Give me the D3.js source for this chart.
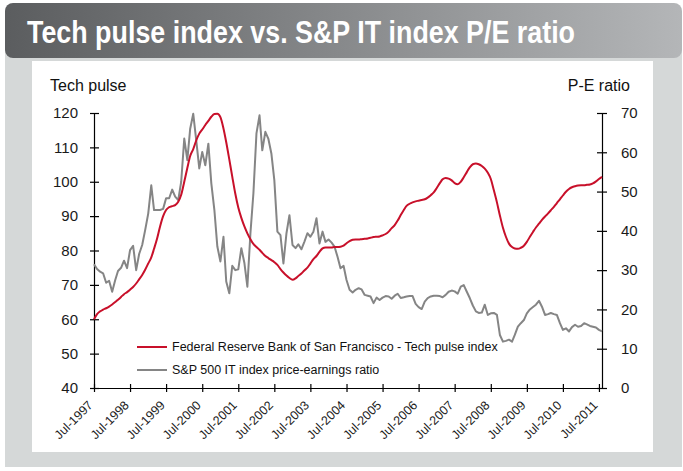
<!DOCTYPE html>
<html>
<head>
<meta charset="utf-8">
<script src="https://cdn.jsdelivr.net/npm/d3@7"></script>
<style>
  body { margin: 0; background: #fff; }
  svg { display: block; font-family: "Liberation Sans", Arial, sans-serif; }
  .axis text { font-size: 15px; fill: #1a1a1a; }
  .axis path, .axis line { stroke: #000; stroke-width: 1.2; }
</style>
</head>
<body>
<svg id="chart" width="683" height="471"></svg>
<script>
// monthly values, first month Jul 1997
var startMonth = new Date(1997, 6, 1);

var techPulse = [
  60.0, 61.5, 62.3, 62.8, 63.2, 63.7, 64.3, 65.0, 65.7, 66.5,
  67.3, 67.9, 68.6, 69.4, 70.4, 71.6, 72.9, 74.4, 76.2, 78.0,
  80.5, 83.5, 87.0, 90.0, 91.8, 92.6, 92.9, 93.2, 94.2, 96.2,
  100.0, 104.0, 107.5, 109.5, 112.0, 114.0, 115.2, 116.5, 117.7, 118.9,
  119.7, 119.8, 118.8, 115.5, 111.5, 106.5, 101.5, 96.5, 92.5, 89.5,
  87.0, 85.0, 83.3, 81.9, 81.0, 80.2, 79.3, 78.4, 77.8, 77.2,
  76.6, 75.8, 74.6, 73.6, 72.7, 72.0, 71.5, 71.9, 72.6, 73.3,
  74.2, 75.0, 76.2, 77.5, 78.4, 79.6, 80.6, 80.9, 80.9, 80.9,
  81.0, 81.0, 81.1, 81.4, 82.1, 82.7, 83.1, 83.2, 83.2, 83.3,
  83.4, 83.5, 83.7, 83.9, 84.0, 84.1, 84.4, 84.8, 85.5, 86.5,
  87.4, 88.7, 90.3, 91.8, 93.0, 93.6, 94.0, 94.3, 94.5, 94.7,
  94.9, 95.4, 96.1, 96.9, 98.2, 99.6, 100.7, 101.1, 100.9, 100.4,
  99.6, 99.3, 100.0, 101.3, 102.8, 104.2, 105.1, 105.3, 105.1, 104.6,
  103.8, 102.6, 100.8, 97.5, 94.0, 90.2, 86.6, 84.0, 82.0, 81.0,
  80.6, 80.5, 80.8, 81.4, 82.5, 84.0, 85.4, 86.7, 87.8, 88.9,
  89.9, 90.8, 91.7, 92.7, 93.8, 94.9, 96.0, 97.1, 97.9, 98.4,
  98.7, 98.9, 99.0, 99.0, 99.1, 99.2, 99.5, 100.1, 100.8, 101.4
];

var peRatio = [
  31.5, 30.3, 29.6, 29.2, 26.8, 27.3, 24.5, 27.5, 29.8, 30.6,
  32.4, 30.5, 35.1, 36.2, 30.0, 34.1, 36.4, 40.2, 44.4, 51.6,
  45.3, 45.3, 45.3, 45.6, 48.3, 48.3, 50.5, 48.7, 47.8, 52.5,
  63.5, 58.0, 66.0, 69.8, 63.1, 55.9, 60.1, 56.7, 62.2, 52.1,
  45.3, 36.0, 32.2, 38.5, 27.1, 24.1, 31.1, 30.0, 30.2, 35.6,
  31.8, 25.8, 39.4, 49.5, 64.8, 69.4, 60.5, 65.2, 63.5, 59.7,
  52.9, 39.8, 38.9, 31.7, 39.4, 44.0, 36.4, 35.6, 36.6, 35.3,
  37.2, 39.4, 38.5, 39.8, 43.2, 36.8, 39.8, 37.2, 37.8, 37.0,
  36.0, 33.4, 30.5, 31.1, 27.5, 25.0, 24.3, 25.0, 25.4, 25.1,
  23.7, 23.5, 23.3, 21.6, 23.0, 22.4, 23.0, 23.4, 23.3, 22.7,
  23.5, 24.0, 22.9, 23.1, 23.3, 23.4, 23.4, 21.4, 20.6, 20.1,
  22.0, 22.9, 23.3, 23.5, 23.5, 23.4, 23.1, 23.7, 24.5, 24.8,
  24.6, 24.0, 25.8, 26.2, 24.5, 22.9, 21.0, 19.5, 19.1, 19.2,
  21.2, 18.6, 19.0, 19.1, 18.6, 13.5, 11.8, 12.0, 12.3, 11.8,
  13.5, 15.6, 16.5, 17.3, 19.0, 20.0, 20.6, 21.2, 22.2, 20.7,
  18.6, 18.8, 19.1, 18.8, 18.6, 16.5, 14.8, 15.2, 14.4, 15.5,
  16.1, 15.6, 15.8, 16.5, 16.2, 15.8, 15.6, 15.4, 14.8, 14.4
];

var tickYears = [1997, 1998, 1999, 2000, 2001, 2002, 2003, 2004, 2005, 2006, 2007, 2008, 2009, 2010, 2011];
var leftTicks = [40, 50, 60, 70, 80, 90, 100, 110, 120];
var rightTicks = [0, 10, 20, 30, 40, 50, 60, 70];
var seriesNames = ["Federal Reserve Bank of San Francisco - Tech pulse index", "S&P 500 IT index price-earnings ratio"];

var redColor = "#c8102a", greyColor = "#858585";

var months = techPulse.map(function (d, i) { return d3.timeMonth.offset(startMonth, i); });

var svg = d3.select("#chart");

// background panel and title bar
var defs = svg.append("defs");
var grad = defs.append("linearGradient").attr("id", "titleGrad");
grad.append("stop").attr("offset", "0%").attr("stop-color", "#5b5d5f");
grad.append("stop").attr("offset", "100%").attr("stop-color", "#b4b6b8");

svg.append("rect").attr("x", 5).attr("y", 45).attr("width", 677).attr("height", 422).attr("fill", "#d5d8d8");
svg.append("rect").attr("x", 32).attr("y", 61).attr("width", 621).attr("height", 391).attr("fill", "#fff");
svg.append("rect").attr("x", 5).attr("y", 3).attr("width", 677).attr("height", 55).attr("rx", 8)
    .attr("fill", "url(#titleGrad)");
// narrow bold title: squeeze regular bold to the width of the original
svg.append("text").attr("x", 27).attr("y", 43)
    .attr("textLength", 548).attr("lengthAdjust", "spacingAndGlyphs")
    .style("font-weight", "bold").style("font-size", "32px").attr("fill", "#fff")
    .text("Tech pulse index vs. S&P IT index P/E ratio");

// scales
var x = d3.scaleTime()
    .domain([startMonth, months[months.length - 1]])
    .range([94, 602]);
var yL = d3.scaleLinear().domain([40, 120]).range([388, 113]);
var yR = d3.scaleLinear().domain([0, 70]).range([388, 113]);

// axes
var gL = svg.append("g").attr("class", "axis").attr("transform", "translate(94,0)")
    .call(d3.axisLeft(yL).tickValues(leftTicks).tickSizeOuter(0).tickPadding(10));
gL.selectAll(".tick line").attr("x1", -4).attr("x2", 5);

var gR = svg.append("g").attr("class", "axis").attr("transform", "translate(602,0)")
    .call(d3.axisRight(yR).tickValues(rightTicks).tickSizeOuter(0).tickPadding(13));
gR.selectAll(".tick line").attr("x1", -5).attr("x2", 5);

var tickDates = tickYears.map(function (y) { return new Date(y, 6, 1); });
var gX = svg.append("g").attr("class", "axis").attr("transform", "translate(0,388)")
    .call(d3.axisBottom(x).tickValues(tickDates).tickSizeOuter(0).tickFormat(d3.timeFormat("Jul-%Y")));
gX.selectAll(".tick line").attr("y1", -4).attr("y2", 4);
gX.selectAll(".tick text")
    .style("font-size", "12.5px")
    .attr("text-anchor", "end")
    .attr("dy", null)
    .attr("y", 0)
    .attr("transform", "translate(-1,18) rotate(-45)");

// axis titles
svg.append("text").attr("x", 50).attr("y", 91).style("font-size", "16px").attr("fill", "#111").text("Tech pulse");
svg.append("text").attr("x", 630).attr("y", 91).attr("text-anchor", "end").style("font-size", "16px")
    .attr("fill", "#111").text("P-E ratio");

// lines
var pulseLine = d3.line()
    .x(function (d, i) { return x(months[i]); })
    .y(function (d) { return yL(d); })
    .curve(d3.curveMonotoneX);
var peLine = d3.line()
    .x(function (d, i) { return x(months[i]); })
    .y(function (d) { return yR(d); });

svg.append("path").datum(peRatio).attr("d", peLine)
    .attr("fill", "none").attr("stroke", greyColor).attr("stroke-width", 2).attr("stroke-linejoin", "round");
svg.append("path").datum(techPulse).attr("d", pulseLine)
    .attr("fill", "none").attr("stroke", redColor).attr("stroke-width", 2);

// legend
var legend = svg.append("g");
[redColor, greyColor].forEach(function (c, i) {
    var ly = 347 + i * 23;
    legend.append("line").attr("x1", 137).attr("x2", 167).attr("y1", ly).attr("y2", ly)
        .attr("stroke", c).attr("stroke-width", 2);
    legend.append("text").attr("x", 172).attr("y", ly).attr("dy", "0.35em")
        .style("font-size", "12.5px").attr("fill", "#111").text(seriesNames[i]);
});
</script>
</body>
</html>
